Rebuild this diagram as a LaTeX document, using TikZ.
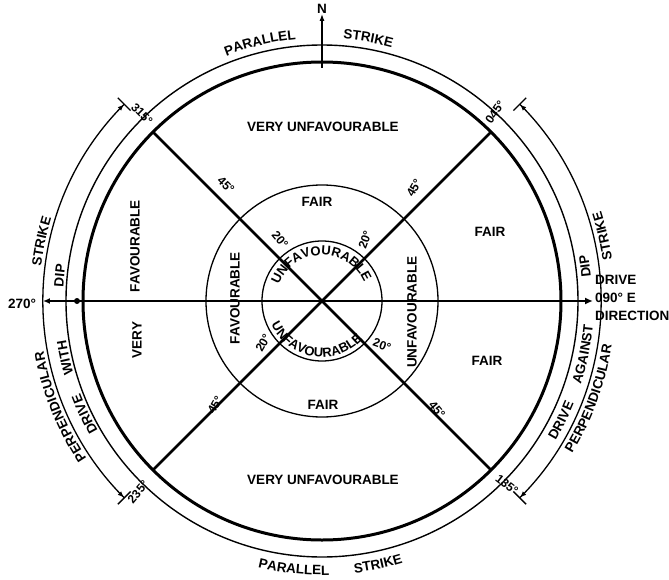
\documentclass[tikz,border=0pt]{standalone}
\usepackage{fontspec}
\setmainfont{Liberation Sans}
\usetikzlibrary{arrows.meta,decorations.text}
\newcommand\arcfont{\fontsize{13.5}{15}\selectfont\bfseries}
\newcommand\innerfont{\fontsize{13}{15}\selectfont\bfseries}
\begin{document}
\begin{tikzpicture}[x=1pt,y=1pt,
  lbl/.style={font=\fontsize{13.5}{15}\selectfont\bfseries, inner sep=0pt},
  deg/.style={font=\fontsize{12}{13}\selectfont\bfseries, inner sep=0pt},
  heavy/.style={line width=2.7pt},
  ring/.style={line width=1.4pt},
  dimtip/.style={line width=1.3pt,
    {Bar[width=18pt]Latex[length=6pt,width=5pt]}-{Latex[length=6pt,width=5pt]Bar[width=18pt]}},
  arctext/.style={decorate, decoration={text along path, text align=center, text={|\arcfont|#1}}},
  innertext/.style={decorate, decoration={text along path, text align=center, text={|\innerfont|#1}}},
]
\useasboundingbox (-322,-278) rectangle (347,301);
\fill[white] (-322,-278) rectangle (347,301);

% circles
\draw[line width=3pt] (0,0) circle[radius=239];
\draw[ring] (0,0) circle[radius=256];
\draw[line width=1.3pt] (0,0) circle[radius=116];
\draw[line width=1.3pt] (0,0) circle[radius=60];

% diagonals
\coordinate (nw) at (135:239);
\coordinate (se) at (-45:239);
\coordinate (ne) at (45:239);
\coordinate (sw) at (225:239);
\draw[heavy] (nw) -- (se);
\draw[heavy] (ne) -- (sw);

% horizontal drive line
\coordinate (west) at (180:279);
\coordinate (east) at (0:271);
\draw[heavy, {Latex[length=7pt,width=6pt]}-{Latex[length=8pt,width=7pt]}] (west) -- (east);
\node[circle, fill, inner sep=0pt, minimum size=6pt] (dipdot) at (-245,0) {};

% north arrow
\node[lbl] (N) at (0,292) {N};
\coordinate (nbase) at (0,233);
\draw[line width=1.6pt, -{Latex[length=7pt,width=5pt]}] (nbase) -- (N.south);

% outer dimension arcs
\draw[dimtip] (135:279) arc[start angle=135, end angle=225, radius=279];
\draw[dimtip] (-45:279) arc[start angle=-45, end angle=45, radius=279];

% bearing labels
\node[deg, rotate=-45] (d315) at (-180,187) {315°};
\node[deg, rotate=55] (d045) at (173,189) {045°};
\node[deg, rotate=50] (d235) at (-184,-191) {235°};
\node[deg, rotate=-38] (d135) at (185,-184) {135°};
\node[lbl] (d270) at (-300,-3) {270°};
\node[lbl, align=left, anchor=west, font=\fontsize{13.5}{18}\selectfont\bfseries] (drv) at (273,3) {DRIVE\\090° E\\DIRECTION};

% angle labels
\node[deg, rotate=-45] (a45ul) at (-96,116) {45°};
\node[deg, rotate=60] (a45ur) at (92,113) {45°};
\node[deg, rotate=60] (a45ll) at (-107,-104) {45°};
\node[deg, rotate=-50] (a45lr) at (115,-109) {45°};
\node[deg, rotate=-50] (a20ul) at (-42,61) {20°};
\node[deg, rotate=70] (a20ur) at (43,61) {20°};
\node[deg, rotate=60] (a20ll) at (-59,-42) {20°};
\node[deg, rotate=-20] (a20lr) at (60,-44) {20°};

% region labels
\node[lbl] (vut) at (1,174) {VERY UNFAVOURABLE};
\node[lbl] (vub) at (1,-179) {VERY UNFAVOURABLE};
\node[lbl] (fairt) at (-5,99) {FAIR};
\node[lbl] (fairb) at (1,-104) {FAIR};
\node[lbl] (fairru) at (168,69) {FAIR};
\node[lbl] (fairrl) at (165,-60) {FAIR};
\node[lbl, rotate=90] (favo) at (-187,55) {FAVOURABLE};
\node[lbl, rotate=90] (very) at (-185,-39) {VERY};
\node[lbl, rotate=90] (favm) at (-87,3) {FAVOURABLE};
\node[lbl, rotate=90] (unfm) at (90,-11) {UNFAVOURABLE};

% inner circle texts
\path[innertext=UNFAVOURABLE] (175:46) arc[start angle=175, end angle=8, radius=46];
\path[innertext=UNFAVOURABLE] (184:56) arc[start angle=184, end angle=338, radius=56];

% top and bottom
\path[arctext=PARALLEL] (125:263) arc[start angle=125, end angle=82, radius=263];
\path[arctext=STRIKE] (100:263) arc[start angle=100, end angle=60, radius=263];
\path[arctext=PARALLEL] (244:274) arc[start angle=244, end angle=284, radius=274];
\path[arctext=STRIKE] (262:274) arc[start angle=262, end angle=302, radius=274];

% left side
\path[arctext=STRIKE] (185:283) arc[start angle=185, end angle=151, radius=283];
\path[arctext=DIP] (190:259) arc[start angle=190, end angle=159, radius=259];
\path[arctext=DRIVE] (220:259) arc[start angle=220, end angle=191, radius=259];
\path[arctext=WITH] (207:259) arc[start angle=207, end angle=178, radius=259];
\path[arctext=PERPENDICULAR] (230:283) arc[start angle=230, end angle=174, radius=283];

% right side
\path[arctext=STRIKE] (-5:293) arc[start angle=-5, end angle=31, radius=293];
\path[arctext=DIP] (-8:270) arc[start angle=-8, end angle=23, radius=270];
\path[arctext=DRIVE] (-45:272) arc[start angle=-45, end angle=-8, radius=272];
\path[arctext=AGAINST] (-35:272) arc[start angle=-35, end angle=12, radius=272];
\path[arctext=PERPENDICULAR] (-50:293) arc[start angle=-50, end angle=10, radius=293];
\end{tikzpicture}
\end{document}
